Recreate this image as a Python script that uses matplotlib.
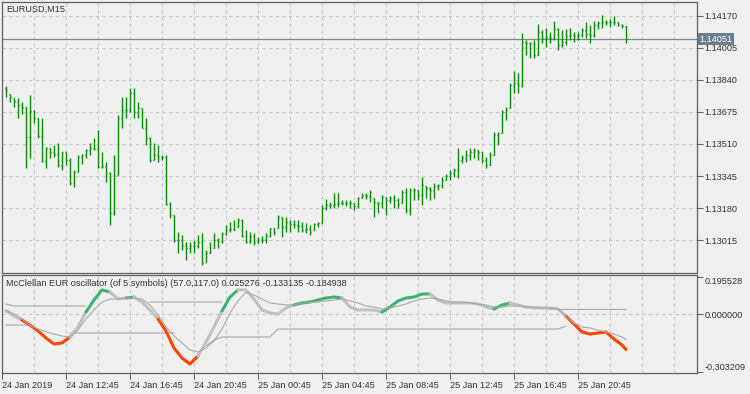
import matplotlib
matplotlib.use("Agg")
import matplotlib.pyplot as plt
import numpy as np

plt.rcParams['font.family'] = ['Liberation Sans', 'DejaVu Sans']

# EURUSD M15 bars, first bar 24 Jan 2019 09:00
bar_open = [1.13799, 1.13768, 1.13747, 1.13732, 1.13711, 1.13701, 1.13546, 1.13680, 1.13644, 1.13551,
            1.13422, 1.13489, 1.13469, 1.13458, 1.13402, 1.13469, 1.13428, 1.13309, 1.13366, 1.13443,
            1.13453, 1.13479, 1.13489, 1.13484, 1.13391, 1.13397, 1.13361, 1.13154, 1.13350, 1.13644,
            1.13685, 1.13685, 1.13773, 1.13675, 1.13696, 1.13593, 1.13541, 1.13428, 1.13453, 1.13443,
            1.13443, 1.13201, 1.13144, 1.13015, 1.13015, 1.12989, 1.12974, 1.12984, 1.12984, 1.13005,
            1.12902, 1.12948, 1.12974, 1.13015, 1.13010, 1.13046, 1.13067, 1.13072, 1.13082, 1.13118,
            1.13036, 1.13005, 1.13036, 1.13005, 1.13015, 1.13015, 1.13036, 1.13077, 1.13077, 1.13134,
            1.13082, 1.13108, 1.13098, 1.13092, 1.13087, 1.13067, 1.13072, 1.13067, 1.13098, 1.13103,
            1.13180, 1.13196, 1.13196, 1.13201, 1.13206, 1.13206, 1.13206, 1.13206, 1.13190, 1.13232,
            1.13247, 1.13242, 1.13232, 1.13211, 1.13206, 1.13237, 1.13221, 1.13232, 1.13221, 1.13206,
            1.13263, 1.13170, 1.13273, 1.13273, 1.13247, 1.13293, 1.13283, 1.13273, 1.13293, 1.13299,
            1.13324, 1.13345, 1.13361, 1.13376, 1.13428, 1.13438, 1.13453, 1.13469, 1.13479, 1.13469,
            1.13428, 1.13402, 1.13453, 1.13556, 1.13567, 1.13675, 1.13696, 1.13814, 1.13825, 1.13814,
            1.14036, 1.14031, 1.14031, 1.13969, 1.14088, 1.14057, 1.14062, 1.14057, 1.14103, 1.14020,
            1.14036, 1.14067, 1.14072, 1.14067, 1.14072, 1.14098, 1.14077, 1.14072, 1.14124, 1.14134,
            1.14139, 1.14139, 1.14139, 1.14139, 1.14124, 1.14118]
bar_high = [1.13809, 1.13768, 1.13747, 1.13747, 1.13727, 1.13701, 1.13763, 1.13685, 1.13644, 1.13644,
            1.13495, 1.13489, 1.13505, 1.13515, 1.13469, 1.13469, 1.13438, 1.13376, 1.13453, 1.13458,
            1.13484, 1.13515, 1.13541, 1.13582, 1.13469, 1.13417, 1.13366, 1.13453, 1.13660, 1.13752,
            1.13752, 1.13799, 1.13799, 1.13727, 1.13696, 1.13644, 1.13546, 1.13515, 1.13505, 1.13453,
            1.13453, 1.13211, 1.13144, 1.13056, 1.13041, 1.13005, 1.13005, 1.13015, 1.13041, 1.13051,
            1.12963, 1.13005, 1.13051, 1.13025, 1.13056, 1.13092, 1.13108, 1.13118, 1.13129, 1.13123,
            1.13067, 1.13056, 1.13051, 1.13030, 1.13036, 1.13051, 1.13077, 1.13077, 1.13144, 1.13134,
            1.13134, 1.13118, 1.13118, 1.13118, 1.13108, 1.13103, 1.13092, 1.13103, 1.13108, 1.13196,
            1.13226, 1.13211, 1.13257, 1.13257, 1.13221, 1.13221, 1.13221, 1.13206, 1.13237, 1.13257,
            1.13257, 1.13273, 1.13232, 1.13211, 1.13247, 1.13237, 1.13242, 1.13247, 1.13232, 1.13273,
            1.13283, 1.13283, 1.13283, 1.13273, 1.13340, 1.13293, 1.13288, 1.13309, 1.13304, 1.13340,
            1.13355, 1.13376, 1.13386, 1.13489, 1.13453, 1.13479, 1.13489, 1.13489, 1.13479, 1.13469,
            1.13443, 1.13469, 1.13572, 1.13572, 1.13685, 1.13701, 1.13825, 1.13886, 1.13876, 1.14082,
            1.14046, 1.14036, 1.14046, 1.14129, 1.14098, 1.14108, 1.14088, 1.14144, 1.14108, 1.14098,
            1.14103, 1.14108, 1.14088, 1.14088, 1.14108, 1.14139, 1.14124, 1.14144, 1.14144, 1.14175,
            1.14149, 1.14155, 1.14170, 1.14139, 1.14129, 1.14118]
bar_low = [1.13752, 1.13727, 1.13701, 1.13644, 1.13665, 1.13386, 1.13438, 1.13618, 1.13541, 1.13417,
           1.13386, 1.13438, 1.13443, 1.13391, 1.13376, 1.13402, 1.13299, 1.13288, 1.13366, 1.13407,
           1.13438, 1.13453, 1.13479, 1.13386, 1.13386, 1.13314, 1.13092, 1.13144, 1.13350, 1.13593,
           1.13644, 1.13675, 1.13644, 1.13644, 1.13593, 1.13505, 1.13417, 1.13428, 1.13417, 1.13428,
           1.13196, 1.13129, 1.13005, 1.12948, 1.12963, 1.12912, 1.12948, 1.12948, 1.12974, 1.12886,
           1.12902, 1.12948, 1.12974, 1.12974, 1.13000, 1.13041, 1.13056, 1.13067, 1.13082, 1.13030,
           1.13000, 1.13000, 1.12989, 1.13000, 1.13000, 1.13000, 1.13030, 1.13041, 1.13077, 1.13030,
           1.13056, 1.13056, 1.13077, 1.13056, 1.13056, 1.13051, 1.13041, 1.13067, 1.13082, 1.13103,
           1.13170, 1.13180, 1.13180, 1.13185, 1.13196, 1.13190, 1.13180, 1.13170, 1.13180, 1.13232,
           1.13226, 1.13211, 1.13134, 1.13154, 1.13180, 1.13144, 1.13206, 1.13180, 1.13180, 1.13206,
           1.13154, 1.13144, 1.13221, 1.13221, 1.13196, 1.13232, 1.13221, 1.13232, 1.13273, 1.13283,
           1.13324, 1.13324, 1.13340, 1.13335, 1.13412, 1.13417, 1.13428, 1.13438, 1.13428, 1.13412,
           1.13386, 1.13402, 1.13453, 1.13505, 1.13567, 1.13634, 1.13696, 1.13773, 1.13773, 1.13804,
           1.13969, 1.13953, 1.13953, 1.13969, 1.14031, 1.14010, 1.14031, 1.14046, 1.13995, 1.14010,
           1.14020, 1.14046, 1.14036, 1.14046, 1.14062, 1.14057, 1.14031, 1.14062, 1.14103, 1.14108,
           1.14124, 1.14113, 1.14124, 1.14118, 1.14108, 1.14031]
bar_close = [1.13789, 1.13752, 1.13732, 1.13711, 1.13701, 1.13546, 1.13680, 1.13644, 1.13551, 1.13422,
             1.13489, 1.13469, 1.13458, 1.13402, 1.13469, 1.13428, 1.13309, 1.13366, 1.13443, 1.13453,
             1.13479, 1.13489, 1.13484, 1.13391, 1.13397, 1.13361, 1.13154, 1.13345, 1.13644, 1.13685,
             1.13685, 1.13773, 1.13675, 1.13696, 1.13593, 1.13541, 1.13428, 1.13453, 1.13443, 1.13443,
             1.13201, 1.13144, 1.13015, 1.13015, 1.12989, 1.12974, 1.12984, 1.12984, 1.13005, 1.12896,
             1.12948, 1.12953, 1.13015, 1.13010, 1.13046, 1.13067, 1.13072, 1.13067, 1.13118, 1.13036,
             1.13005, 1.13036, 1.13005, 1.13015, 1.13015, 1.13036, 1.13077, 1.13056, 1.13134, 1.13082,
             1.13108, 1.13098, 1.13092, 1.13087, 1.13067, 1.13072, 1.13056, 1.13098, 1.13103, 1.13180,
             1.13196, 1.13196, 1.13201, 1.13206, 1.13206, 1.13206, 1.13206, 1.13190, 1.13232, 1.13247,
             1.13242, 1.13263, 1.13211, 1.13206, 1.13237, 1.13221, 1.13232, 1.13221, 1.13201, 1.13263,
             1.13170, 1.13273, 1.13273, 1.13247, 1.13299, 1.13283, 1.13273, 1.13293, 1.13299, 1.13324,
             1.13345, 1.13361, 1.13376, 1.13428, 1.13438, 1.13453, 1.13469, 1.13479, 1.13469, 1.13428,
             1.13402, 1.13453, 1.13556, 1.13567, 1.13675, 1.13685, 1.13814, 1.13825, 1.13814, 1.14036,
             1.14031, 1.14031, 1.13969, 1.14088, 1.14057, 1.14062, 1.14057, 1.14103, 1.14020, 1.14036,
             1.14067, 1.14072, 1.14067, 1.14072, 1.14098, 1.14077, 1.14072, 1.14124, 1.14134, 1.14139,
             1.14139, 1.14139, 1.14139, 1.14124, 1.14118, 1.14051]

price_ticks = [1.14170, 1.14005, 1.13840, 1.13675, 1.13510, 1.13345, 1.13180, 1.13015]
last_price = 1.14051

time_labels = ["24 Jan 2019", "24 Jan 12:45", "24 Jan 16:45", "24 Jan 20:45", "25 Jan 00:45",
               "25 Jan 04:45", "25 Jan 08:45", "25 Jan 12:45", "25 Jan 16:45", "25 Jan 20:45"]
time_label_bars = [-1, 15, 31, 47, 63, 79, 95, 111, 127, 143]
grid_bars = list(range(-1, 170, 8))

# oscillator, sampled every second bar
osc_bars = list(range(0, 156, 2)) + [155]
osc_main = [0.01703, -0.00922, -0.03022, -0.05647, -0.08797, -0.12472, -0.15622, -0.15097, -0.11947, -0.06697,
            0.01178, 0.07478, 0.12728, 0.11678, 0.08003, 0.08528, 0.09053, 0.06428, 0.02228, -0.02497,
            -0.08797, -0.17722, -0.22972, -0.26122, -0.21922, -0.14572, -0.06697, 0.01703, 0.09053, 0.12728,
            0.12728, 0.08003, 0.02228, 0.00653, 0.00128, 0.03278, 0.04853, 0.05903, 0.06428, 0.07478,
            0.08528, 0.09053, 0.08528, 0.03803, 0.02228, 0.02228, 0.02228, 0.01178, 0.03803, 0.06953,
            0.08528, 0.09053, 0.10628, 0.10628, 0.07478, 0.05903, 0.05903, 0.05903, 0.05903, 0.05378,
            0.03803, 0.02753, 0.04853, 0.05903, 0.04853, 0.03803, 0.03278, 0.03278, 0.03278, 0.02753,
            -0.00922, -0.05122, -0.09322, -0.10372, -0.09847, -0.09322, -0.12997, -0.16147, -0.184938]
osc_signal = [0.02228, 0.00128, -0.02497, -0.05647, -0.07747, -0.09322, -0.10372, -0.11422, -0.11947, -0.08272,
              -0.02497, 0.02228, 0.06428, 0.08003, 0.08003, 0.08528, 0.08528, 0.08003, 0.04853, -0.00397,
              -0.06697, -0.11422, -0.15097, -0.18772, -0.19822, -0.17722, -0.14047, -0.07747, 0.00653, 0.06953,
              0.11678, 0.10103, 0.08003, 0.05903, 0.05378, 0.04853, 0.04853, 0.05903, 0.06428, 0.06428,
              0.06953, 0.07478, 0.08003, 0.06953, 0.05903, 0.04328, 0.03803, 0.02753, 0.03278, 0.04328,
              0.05378, 0.06953, 0.08003, 0.08528, 0.08003, 0.06953, 0.06428, 0.06428, 0.05903, 0.05378,
              0.04853, 0.03803, 0.03803, 0.04328, 0.04328, 0.03803, 0.03803, 0.03278, 0.03278, 0.02753,
              -0.00922, -0.04597, -0.06697, -0.07222, -0.08272, -0.09322, -0.10372, -0.11947, -0.133135]
nan = np.nan
osc_upper = ([0.05378] + [0.04328] * 10 + [nan] * 7 + [0.06428] * 10
             + [nan] * 40 + [0.025276] * 11)
osc_lower = ([-0.05647] * 4 + [nan] * 4 + [-0.09847] * 14 + [nan] * 3 + [-0.16672, -0.13522]
             + [-0.11947] * 7 + [-0.07747] * 36 + [-0.06172] + [nan] * 8)
# u = rising (green), d = falling (red), f = neutral (silver)
osc_state = ("fffddddddf" "fuuuffufff" "dddddfffuu" "fffffffuuu"
             "uuufffffuu" "uuuuffffff" "ffuuffffff" "fdddddddd")
osc_ticks = [0.195528, 0.0, -0.303209]

bg = '#f0f0f0'
grid_kw = dict(color='#c8c8c8', linestyle=(0, (3, 3)), linewidth=0.8)
txt = '#303030'
spine = '#606060'

fig = plt.figure(figsize=(7.5, 3.94), dpi=100, facecolor=bg)
ax1 = fig.add_axes([2 / 750, 1 - 273 / 394, 695 / 750, 271 / 394], facecolor=bg)
ax2 = fig.add_axes([2 / 750, 1 - 373 / 394, 695 / 750, 98 / 394], facecolor=bg)

for ax in (ax1, ax2):
    ax.set_xlim(-1, 172.75)
    for s in ax.spines.values():
        s.set_color(spine)
        s.set_linewidth(0.9)
    ax.yaxis.tick_right()
    ax.tick_params(axis='y', direction='out', length=4, width=0.8, color=spine,
                   labelsize=6.6, labelcolor=txt, pad=1.5)

# price panel
x = np.arange(len(bar_close))
bar_color = '#0a8a0a'
ax1.vlines(x, bar_low, bar_high, color=bar_color, lw=1.0, zorder=3)
ax1.hlines(bar_open, x - 0.35, x, color=bar_color, lw=1.0, zorder=3)
ax1.hlines(bar_close, x, x + 0.35, color=bar_color, lw=1.0, zorder=3)
ax1.set_ylim(1.12845, 1.14242)
ax1.set_yticks(price_ticks)
ax1.set_yticklabels(['%.5f' % p for p in price_ticks])
ax1.set_xticks(grid_bars)
ax1.tick_params(axis='x', length=0, labelbottom=False)
ax1.grid(True, **grid_kw)
ax1.set_axisbelow(True)
ax1.axhline(last_price, color='#7b8b9a', lw=0.9, zorder=2)
ax1.text(1.004, last_price, '%.5f' % last_price, transform=ax1.get_yaxis_transform(),
         ha='left', va='center', fontsize=6.6, color='white', clip_on=False, zorder=10,
         bbox=dict(boxstyle='square,pad=0.15', fc='#6c7f92', ec='none'))
ax1.text(0.006, 0.988, 'EURUSD,M15', transform=ax1.transAxes, ha='left', va='top',
         fontsize=6.6, color=txt)

# oscillator panel
ax2.set_ylim(-0.30846, 0.20603)
ax2.plot(osc_bars, osc_upper, color='#a8a8a8', lw=0.8, zorder=2)
ax2.plot(osc_bars, osc_lower, color='#a8a8a8', lw=0.8, zorder=2)
colors = {'u': '#3cb371', 'd': '#ff4500', 'f': '#c0c0c0'}
n = len(osc_main)
k = 1
while k < n:
    s = osc_state[k]
    j = k
    while j + 1 < n and osc_state[j + 1] == s:
        j += 1
    ax2.plot(osc_bars[k - 1:j + 1], osc_main[k - 1:j + 1], color=colors[s], lw=2.2,
             solid_capstyle='round', solid_joinstyle='round', zorder=3)
    k = j + 1
ax2.plot(osc_bars, osc_signal, color='#a8a8a8', lw=0.8, zorder=4)
ax2.axhline(0.0, **grid_kw, zorder=1)

ax2.set_yticks(osc_ticks)
ax2.set_yticklabels(['%.6f' % v for v in osc_ticks])
ylabels = ax2.get_yticklabels()
ylabels[0].set_va('top')
ylabels[2].set_va('bottom')

ax2.set_xticks(time_label_bars)
ax2.set_xticklabels(time_labels)
ax2.set_xticks(grid_bars, minor=True)
ax2.tick_params(axis='x', which='major', direction='out', length=4, width=0.8, color=spine,
                labelsize=6.6, labelcolor=txt, pad=1.5)
ax2.tick_params(axis='x', which='minor', length=0)
for lab in ax2.get_xticklabels():
    lab.set_ha('left')
ax2.grid(True, axis='x', which='both', **grid_kw)
ax2.set_axisbelow(True)

ax2.text(0.006, 0.955,
         'McClellan EUR oscillator (of 5 symbols) (57.0,117.0) %.6f %.6f %.6f'
         % (osc_upper[-1], osc_signal[-1], osc_main[-1]),
         transform=ax2.transAxes, ha='left', va='top', fontsize=6.6, color=txt)

fig.savefig('out.png', dpi=100, facecolor=bg)
